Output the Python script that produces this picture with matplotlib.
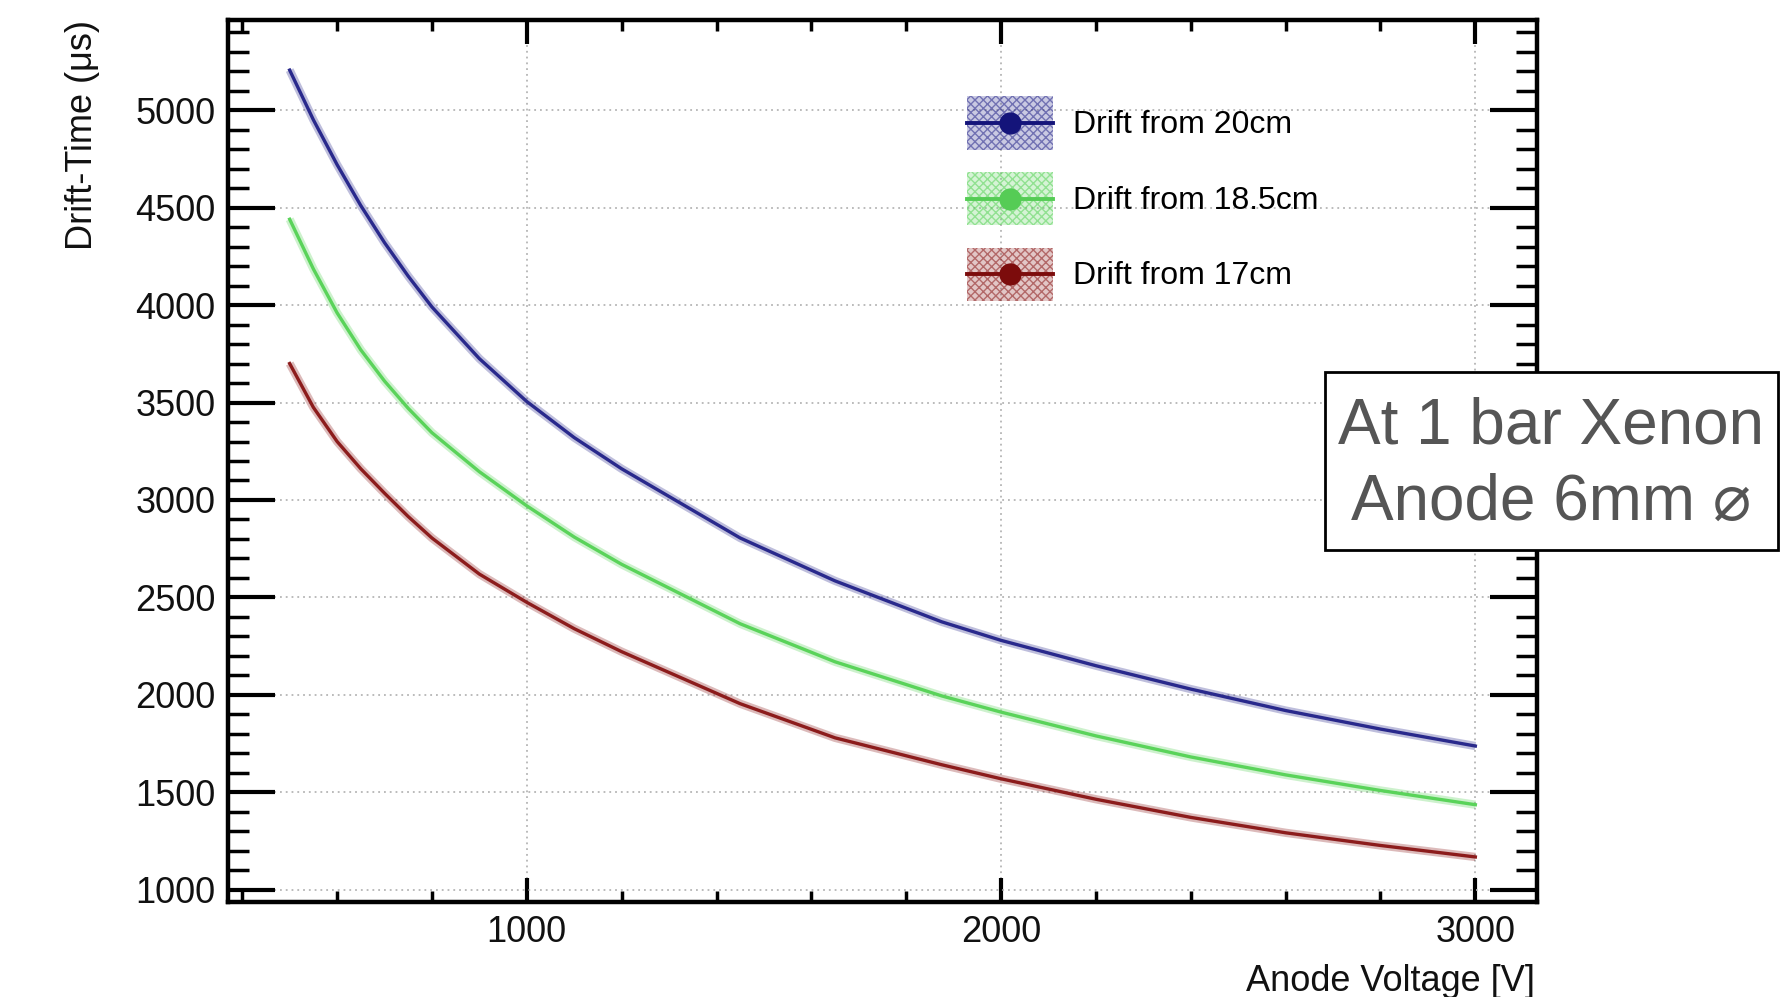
import matplotlib
matplotlib.use("Agg")
import matplotlib.pyplot as plt
from matplotlib.patches import Patch, Rectangle
from matplotlib.lines import Line2D
from matplotlib.ticker import MultipleLocator
from matplotlib.legend_handler import HandlerLine2D

plt.rcParams['font.family'] = ['Liberation Sans', 'DejaVu Sans']

# ---- data ----
voltage = [500, 550, 600, 650, 700, 750, 800, 900, 1000, 1100, 1200, 1450, 1650, 1875,
           2000, 2200, 2400, 2600, 2800, 3000]
drift_20cm = [5205, 4950, 4720, 4510, 4320, 4148, 3990, 3725, 3505, 3320, 3160, 2805, 2585,
              2375, 2280, 2150, 2030, 1920, 1825, 1738]
drift_185cm = [4440, 4185, 3960, 3770, 3610, 3470, 3345, 3145, 2970, 2810, 2670, 2365, 2170,
               1995, 1912, 1790, 1682, 1590, 1510, 1437]
drift_17cm = [3700, 3475, 3300, 3160, 3035, 2915, 2805, 2620, 2475, 2340, 2222, 1955, 1780,
              1642, 1570, 1465, 1372, 1293, 1228, 1169]

labels = ["Drift from 20cm", "Drift from 18.5cm", "Drift from 17cm"]
colors = ["#29298c", "#5ad35a", "#8c1c1c"]
marker_colors = ["#14147a", "#55cc55", "#7c0c0c"]
series = [drift_20cm, drift_185cm, drift_17cm]

x_label = "Anode Voltage [V]"
y_label = "Drift-Time (\u03bcs)"
note = "At 1 bar Xenon\nAnode 6mm \u2300"


class CenteredLine(HandlerLine2D):
    def create_artists(self, legend, orig_handle, xdescent, ydescent,
                       width, height, fontsize, trans):
        return super().create_artists(legend, orig_handle, xdescent, 2 * ydescent,
                                      width, height, fontsize, trans)


W, H = 1788, 997
fig = plt.figure(figsize=(W / 100, H / 100), dpi=100)
ax = fig.add_axes([228 / W, 1 - 902 / H, (1537 - 228) / W, (902 - 20) / H])

for ys, c in zip(series, colors):
    ax.plot(voltage, ys, color=c, lw=6, alpha=0.3, solid_capstyle='butt', zorder=3)
    ax.plot(voltage, ys, color=c, lw=2.4, zorder=4)

ax.set_xlim(370, 3130)
ax.set_ylim(938, 5462)

ax.xaxis.set_major_locator(MultipleLocator(1000))
ax.xaxis.set_minor_locator(MultipleLocator(200))
ax.yaxis.set_major_locator(MultipleLocator(500))
ax.yaxis.set_minor_locator(MultipleLocator(100))

ax.tick_params(which='both', direction='in', top=True, right=True, colors='black')
ax.xaxis.set_tick_params(which='major', length=17, width=3, pad=9, labelsize=26)
ax.xaxis.set_tick_params(which='minor', length=8, width=2.5)
ax.yaxis.set_tick_params(which='major', length=34, width=3, pad=9, labelsize=26)
ax.yaxis.set_tick_params(which='minor', length=15, width=2.5)
for lab in ax.get_xticklabels() + ax.get_yticklabels():
    lab.set_color('#111111')

for s in ax.spines.values():
    s.set_linewidth(3.2)
    s.set_color('black')

ax.grid(True, which='major', color='#b5b5b5', lw=1.3, linestyle=(0, (1, 2.2)), zorder=1)
ax.set_axisbelow(True)

fig.text(82 / W, 1 - 20 / H, y_label, rotation=90, ha='center', va='top',
         fontsize=26, color='#111111')
fig.text(1535 / W, 1 - 964 / H, x_label, ha='right', va='top',
         fontsize=26, color='#111111')

# legend
handles = []
for c, mc in zip(colors, marker_colors):
    p = Patch(facecolor=(matplotlib.colors.to_rgb(c) + (0.25,)),
              edgecolor=(matplotlib.colors.to_rgb(c) + (0.55,)),
              hatch='xxxx', lw=0)
    l = Line2D([], [], color=mc, lw=2.8, marker='o', markersize=15)
    handles.append((p, l))
fig.legend(handles, labels, loc='upper left',
           bbox_to_anchor=(967 / W, 1 - 96 / H), frameon=False, borderpad=0,
           fontsize=23, handlelength=2.7, handleheight=2.2,
           labelspacing=0.7, handletextpad=0.62, borderaxespad=0,
           handler_map={Line2D: CenteredLine()})

# annotation box
rect = Rectangle((1325 / W, 1 - 550 / H), (1778 - 1325) / W, 178 / H,
                 transform=fig.transFigure, facecolor='white', edgecolor='black',
                 lw=2, zorder=10)
fig.add_artist(rect)
fig.text(1551 / W, 1 - 465 / H, note, ha='center', va='center', fontsize=46,
         color='#555555', linespacing=1.35, zorder=11)

fig.savefig("out.png", dpi=100)
